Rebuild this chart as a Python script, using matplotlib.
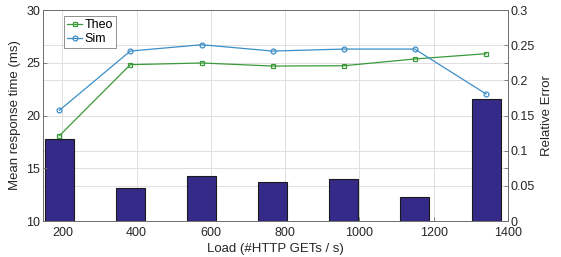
import matplotlib
matplotlib.use("Agg")
import matplotlib.pyplot as plt

plt.rcParams['font.family'] = ['Liberation Sans', 'DejaVu Sans']

loads = [192, 383, 575, 766, 958, 1149, 1341]
theo = [18.08, 24.82, 24.98, 24.69, 24.72, 25.36, 25.86]
sim = [20.49, 26.11, 26.71, 26.11, 26.30, 26.30, 22.04]
rel_err = [0.116, 0.0474, 0.0635, 0.055, 0.0597, 0.0346, 0.173]
xticks = [200, 400, 600, 800, 1000, 1200, 1400]
left_ticks = [10, 15, 20, 25, 30]
right_ticks = [0, 0.05, 0.1, 0.15, 0.2, 0.25, 0.3]

fig = plt.figure(figsize=(5.61, 2.57), dpi=100)
ax2 = fig.add_axes([0.0767, 0.140, 0.8288, 0.821])
ax = ax2.twinx()
ax.yaxis.tick_left()
ax.yaxis.set_label_position('left')
ax2.yaxis.tick_right()
ax2.yaxis.set_label_position('right')

ax.set_zorder(ax2.get_zorder() + 1)
ax.patch.set_visible(False)

text_col = '#262626'
spine_col = '#6e6e6e'
grid_col = '#dedede'

# bars (right axis)
ax2.bar(loads, rel_err, width=78, color='#352a87', edgecolor='#1a1a1a', linewidth=0.8, zorder=3)
ax2.set_ylim(0, 0.3)
ax2.set_yticks(right_ticks)
ax2.set_yticklabels(['0', '0.05', '0.1', '0.15', '0.2', '0.25', '0.3'])
minor = [(v - 10) / 20 * 0.3 for v in left_ticks[1:-1]]
ax2.set_yticks(minor, minor=True)
ax2.set_xlim(148, 1400)
ax2.set_xticks(xticks)
ax2.grid(True, which='both', color=grid_col, linewidth=0.7, zorder=0)
ax2.set_axisbelow(True)
ax2.set_ylabel('Relative Error', fontsize=9.5, color=text_col)
ax2.set_xlabel('Load (#HTTP GETs / s)', fontsize=9.5, color=text_col, labelpad=3)

# lines (left axis)
ax.plot(loads, theo, color='#3a9a3a', linewidth=0.9, marker='s', markersize=3,
        markerfacecolor='none', markeredgewidth=0.9, label='Theo')
ax.plot(loads, sim, color='#3b8fc8', linewidth=0.9, marker='o', markersize=3.5,
        markerfacecolor='none', markeredgewidth=0.9, label='Sim')
ax.set_ylim(10, 30)
ax.set_yticks(left_ticks)
ax.set_ylabel('Mean response time (ms)', fontsize=9.5, color=text_col)

for a in (ax, ax2):
    a.tick_params(direction='in', labelsize=9, color=spine_col, labelcolor=text_col,
                  length=3, width=0.6, which='both', pad=2)
    for s in a.spines.values():
        s.set_color(spine_col)
        s.set_linewidth(0.6)
ax2.tick_params(axis='y', which='minor', length=3)
ax2.tick_params(axis='x', pad=4.5)

leg = ax.legend(loc='upper left', bbox_to_anchor=(0.045, 0.972), fontsize=9,
                handlelength=1.2, handletextpad=0.2, borderpad=0.25,
                labelspacing=0.15, borderaxespad=0, fancybox=False,
                framealpha=1, edgecolor='#7f7f7f')
leg.get_frame().set_linewidth(0.6)

fig.savefig('out.png', dpi=100)
